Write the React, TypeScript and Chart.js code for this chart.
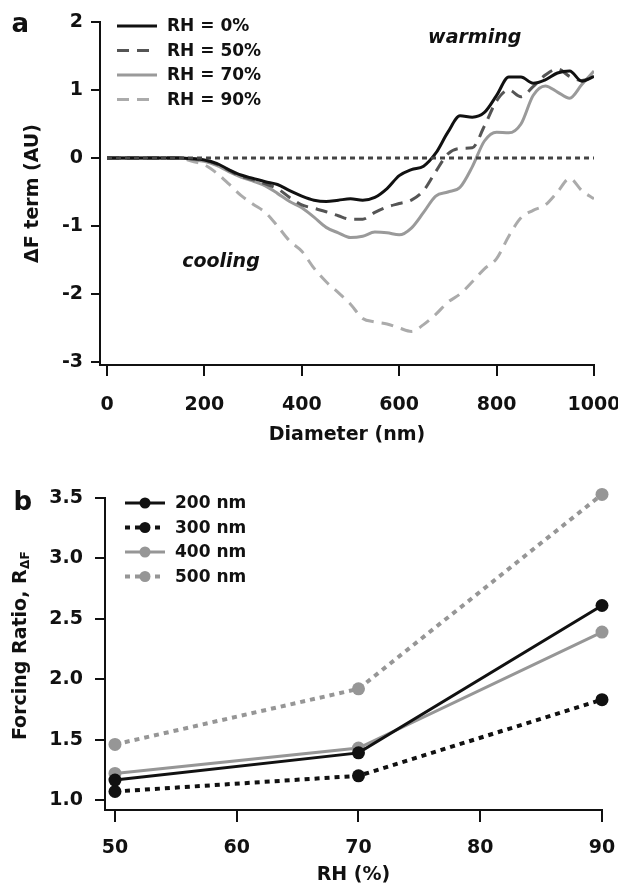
import { useEffect, useRef } from 'react';
import { Chart, registerables } from 'chart.js';

Chart.register(...registerables);

// ---------- Panel a data ----------
const diameters = [0, 25, 50, 75, 100, 125, 150, 175, 200, 225, 250, 275, 300, 325, 350, 375, 400, 425, 450, 475, 500, 525, 550, 575, 600, 625, 650, 675, 700, 725, 750, 775, 800, 825, 850, 875, 900, 925, 950, 975, 1000];
const rh0 = [0, 0, 0, 0, 0, 0, 0, -0.01, -0.03, -0.08, -0.17, -0.25, -0.3, -0.35, -0.39, -0.48, -0.56, -0.62, -0.64, -0.62, -0.6, -0.62, -0.58, -0.45, -0.26, -0.17, -0.12, 0.07, 0.38, 0.62, 0.6, 0.67, 0.92, 1.19, 1.19, 1.1, 1.15, 1.25, 1.28, 1.13, 1.2];
const rh50 = [0, 0, 0, 0, 0, 0, 0, -0.01, -0.03, -0.09, -0.18, -0.27, -0.32, -0.38, -0.45, -0.58, -0.69, -0.74, -0.79, -0.85, -0.9, -0.9, -0.8, -0.72, -0.67, -0.62, -0.48, -0.2, 0.06, 0.14, 0.15, 0.47, 0.84, 1.0, 0.9, 1.05, 1.22, 1.31, 1.2, 1.14, 1.2];
const rh70 = [0, 0, 0, 0, 0, 0, 0, -0.02, -0.05, -0.11, -0.2, -0.28, -0.34, -0.41, -0.52, -0.64, -0.73, -0.87, -1.02, -1.1, -1.17, -1.15, -1.09, -1.1, -1.13, -1.03, -0.8, -0.56, -0.5, -0.43, -0.13, 0.25, 0.38, 0.37, 0.5, 0.92, 1.06, 0.97, 0.88, 1.08, 1.28];
const rh90 = [0, 0, 0, 0, 0, 0, 0, -0.05, -0.1, -0.22, -0.38, -0.55, -0.68, -0.8, -1.0, -1.22, -1.37, -1.62, -1.82, -1.98, -2.15, -2.36, -2.41, -2.44, -2.5, -2.55, -2.45, -2.3, -2.12, -2.0, -1.82, -1.63, -1.48, -1.15, -0.88, -0.77, -0.69, -0.5, -0.3, -0.48, -0.6];
const zeroLine = [0, 0];
const zeroLineX = [0, 1000];
const diameterTicks = [0, 200, 400, 600, 800, 1000];
const deltaFTicks = [-3, -2, -1, 0, 1, 2];

// ---------- Panel b data ----------
const rhValues = [50, 70, 90];
const ratio200 = [1.165, 1.39, 2.61];
const ratio300 = [1.07, 1.2, 1.83];
const ratio400 = [1.22, 1.43, 2.39];
const ratio500 = [1.46, 1.92, 3.53];
const rhTicks = [50, 60, 70, 80, 90];
const ratioTicks = [1.0, 1.5, 2.0, 2.5, 3.0, 3.5];

const FONT = '"DejaVu Sans", "Liberation Sans", sans-serif';
const INK = '#111111';

const pts = (xs: number[], ys: number[]) => xs.map((x, i) => ({ x, y: ys[i] }));
const fixedTicks = (values: number[]) => (scale: any) => {
  scale.ticks = values.map((v) => ({ value: v }));
};

const axisGrid = (len: number) => ({
  display: true,
  drawOnChartArea: false,
  drawTicks: true,
  tickLength: len,
  tickWidth: 2,
  tickColor: INK,
  color: INK,
  lineWidth: 2,
});
const axisBorder = { display: true, color: INK, width: 2 };
const tickFont = { family: FONT, size: 19, weight: 'bold' as const };

const topDecor = {
  id: 'topDecor',
  afterDraw(chart: any) {
    const { ctx } = chart;
    const x = chart.scales.x;
    const y = chart.scales.y;
    ctx.save();
    ctx.fillStyle = INK;
    ctx.font = `bold 26px ${FONT}`;
    ctx.textAlign = 'left';
    ctx.textBaseline = 'alphabetic';
    ctx.fillText('a', 11.5, 32);

    ctx.font = `italic bold 19px ${FONT}`;
    ctx.textAlign = 'center';
    ctx.textBaseline = 'middle';
    ctx.fillText('warming', x.getPixelForValue(755), y.getPixelForValue(1.76));
    ctx.fillText('cooling', x.getPixelForValue(234), y.getPixelForValue(-1.53));

    // legend
    let row = 0;
    chart.data.datasets.forEach((ds: any) => {
      if (!ds.label) return;
      const cy = 26 + row * 24.5;
      ctx.beginPath();
      ctx.setLineDash(ds.borderDash || []);
      ctx.strokeStyle = ds.borderColor;
      ctx.lineWidth = ds.borderWidth;
      ctx.moveTo(117, cy);
      ctx.lineTo(157, cy);
      ctx.stroke();
      ctx.setLineDash([]);
      ctx.fillStyle = INK;
      ctx.font = `bold 17px ${FONT}`;
      ctx.textAlign = 'left';
      ctx.textBaseline = 'middle';
      ctx.fillText(ds.label, 167, cy + 1);
      row++;
    });
    ctx.restore();
  },
};

const bottomDecor = {
  id: 'bottomDecor',
  afterDraw(chart: any) {
    const { ctx } = chart;
    ctx.save();
    ctx.fillStyle = INK;
    ctx.font = `bold 26px ${FONT}`;
    ctx.textAlign = 'left';
    ctx.textBaseline = 'alphabetic';
    ctx.fillText('b', 13.5, 60);

    // y title with subscript
    ctx.save();
    ctx.translate(21, 196);
    ctx.rotate(-Math.PI / 2);
    const main = 'Forcing Ratio, R';
    const sub = 'ΔF';
    ctx.font = `bold 19px ${FONT}`;
    const w = ctx.measureText(main).width;
    ctx.font = `bold 12px ${FONT}`;
    const ws = ctx.measureText(sub).width;
    const start = -(w + ws) / 2;
    ctx.textBaseline = 'middle';
    ctx.textAlign = 'left';
    ctx.font = `bold 19px ${FONT}`;
    ctx.fillText(main, start, 0);
    ctx.font = `bold 12px ${FONT}`;
    ctx.fillText(sub, start + w + 0.5, 5);
    ctx.restore();

    // legend
    chart.data.datasets.forEach((ds: any, i: number) => {
      const cy = 53 + i * 24.5;
      ctx.beginPath();
      ctx.setLineDash(ds.borderDash || []);
      ctx.strokeStyle = ds.borderColor;
      ctx.lineWidth = ds.borderWidth;
      ctx.moveTo(125, cy);
      ctx.lineTo(165, cy);
      ctx.stroke();
      ctx.setLineDash([]);
      ctx.beginPath();
      ctx.fillStyle = ds.pointBackgroundColor;
      ctx.arc(145, cy, 5.5, 0, Math.PI * 2);
      ctx.fill();
      ctx.fillStyle = INK;
      ctx.font = `bold 17px ${FONT}`;
      ctx.textAlign = 'left';
      ctx.textBaseline = 'middle';
      ctx.fillText(ds.label, 175, cy + 1);
    });
    ctx.restore();
  },
};

function topConfig(): any {
  const line = (label: string, ys: number[], color: string, dash: number[]) => ({
    label,
    data: pts(diameters, ys),
    borderColor: color,
    backgroundColor: color,
    borderWidth: 3,
    borderDash: dash,
    pointRadius: 0,
    fill: false,
    cubicInterpolationMode: 'monotone',
  });
  return {
    type: 'line',
    data: {
      datasets: [
        {
          label: '',
          data: pts(zeroLineX, zeroLine),
          borderColor: '#444444',
          borderWidth: 3,
          borderDash: [5, 4],
          pointRadius: 0,
          fill: false,
        },
        line('RH = 0%', rh0, '#111111', []),
        line('RH = 50%', rh50, '#555555', [12, 8]),
        line('RH = 70%', rh70, '#9a9a9a', []),
        line('RH = 90%', rh90, '#ababab', [12, 8]),
      ],
    },
    options: {
      responsive: false,
      animation: false,
      events: [],
      layout: { padding: { top: 22, right: 24, left: 0, bottom: 0 } },
      plugins: { legend: { display: false }, tooltip: { enabled: false }, title: { display: false } },
      scales: {
        x: {
          type: 'linear',
          min: -14.4,
          max: 1000,
          afterBuildTicks: fixedTicks(diameterTicks),
          afterFit: (s: any) => {
            s.height = 85;
            s.paddingLeft = 0;
            s.paddingRight = 0;
          },
          grid: axisGrid(11),
          border: axisBorder,
          ticks: {
            color: INK,
            font: tickFont,
            padding: 18,
            maxRotation: 0,
            autoSkip: false,
            callback: (v: any) => String(v),
          },
          title: {
            display: true,
            text: 'Diameter (nm)',
            color: INK,
            font: tickFont,
            padding: { top: 0, bottom: 3.6 },
          },
        },
        y: {
          type: 'linear',
          min: -3.044,
          max: 2,
          afterBuildTicks: fixedTicks(deltaFTicks),
          afterFit: (s: any) => {
            s.width = 100;
          },
          grid: axisGrid(9),
          border: axisBorder,
          ticks: { color: INK, font: tickFont, padding: 8, autoSkip: false, callback: (v: any) => String(v) },
          title: {
            display: true,
            text: 'ΔF term (AU)',
            color: INK,
            font: tickFont,
            padding: { top: 21.6, bottom: 0 },
          },
        },
      },
    },
    plugins: [topDecor],
  };
}

function bottomConfig(): any {
  const series = (label: string, ys: number[], color: string, dash: number[], width: number) => ({
    label,
    data: pts(rhValues, ys),
    borderColor: color,
    backgroundColor: color,
    pointBackgroundColor: color,
    pointBorderColor: color,
    pointBorderWidth: 0,
    pointRadius: 6.5,
    borderWidth: width,
    borderDash: dash,
    fill: false,
    tension: 0,
    clip: false,
  });
  return {
    type: 'line',
    data: {
      datasets: [
        series('200 nm', ratio200, '#111111', [], 3),
        series('300 nm', ratio300, '#111111', [5, 5], 4),
        series('400 nm', ratio400, '#969696', [], 3),
        series('500 nm', ratio500, '#969696', [5, 5], 4),
      ],
    },
    options: {
      responsive: false,
      animation: false,
      events: [],
      layout: { padding: { top: 48, right: 16, left: 0, bottom: 0 } },
      plugins: { legend: { display: false }, tooltip: { enabled: false }, title: { display: false } },
      scales: {
        x: {
          type: 'linear',
          min: 49.18,
          max: 90,
          afterBuildTicks: fixedTicks(rhTicks),
          afterFit: (s: any) => {
            s.height = 78;
            s.paddingLeft = 0;
            s.paddingRight = 0;
          },
          grid: axisGrid(12),
          border: axisBorder,
          ticks: {
            color: INK,
            font: tickFont,
            padding: 15,
            maxRotation: 0,
            autoSkip: false,
            callback: (v: any) => String(v),
          },
          title: {
            display: true,
            text: 'RH (%)',
            color: INK,
            font: tickFont,
            padding: { top: 0, bottom: 1.6 },
          },
        },
        y: {
          type: 'linear',
          min: 0.917,
          max: 3.5,
          afterBuildTicks: fixedTicks(ratioTicks),
          afterFit: (s: any) => {
            s.width = 105;
          },
          grid: axisGrid(10),
          border: axisBorder,
          ticks: {
            color: INK,
            font: tickFont,
            padding: 12,
            autoSkip: false,
            callback: (v: any) => Number(v).toFixed(1),
          },
          title: { display: false },
        },
      },
    },
    plugins: [bottomDecor],
  };
}

export default function App() {
  const topRef = useRef<HTMLCanvasElement>(null);
  const botRef = useRef<HTMLCanvasElement>(null);
  useEffect(() => {
    const c1 = new Chart(topRef.current as HTMLCanvasElement, topConfig());
    const c2 = new Chart(botRef.current as HTMLCanvasElement, bottomConfig());
    return () => {
      c1.destroy();
      c2.destroy();
    };
  }, []);
  return (
    <div style={{ position: 'absolute', left: 0, top: 0, width: 618, height: 888, background: '#ffffff' }}>
      <canvas ref={topRef} width={618} height={450} style={{ display: 'block', width: 618, height: 450 }} />
      <canvas ref={botRef} width={618} height={438} style={{ display: 'block', width: 618, height: 438 }} />
    </div>
  );
}
